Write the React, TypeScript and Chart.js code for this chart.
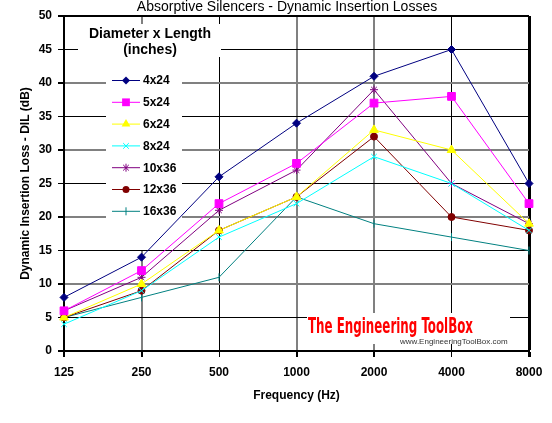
import React, { useEffect, useRef } from 'react';
import { Chart, registerables } from 'chart.js';

Chart.register(...registerables);

const categories = ['125', '250', '500', '1000', '2000', '4000', '8000'];
const seriesNames = ['4x24', '5x24', '6x24', '8x24', '10x36', '12x36', '16x36'];
const s4x24 = [8, 14, 26, 34, 41, 45, 25];
const s5x24 = [6, 12, 22, 28, 37, 38, 22];
const s6x24 = [5, 10, 18, 23, 33, 30, 19];
const s8x24 = [4, 9, 17, 22, 29, 25, 18];
const s10x36 = [6, 11, 21, 27, 39, 25, 19];
const s12x36 = [5, 9, 18, 23, 32, 20, 18];
const s16x36 = [5, 8, 11, 23, 19, 17, 15];
const seriesValues = [s4x24, s5x24, s6x24, s8x24, s10x36, s12x36, s16x36];
const seriesColors = ['#000080', '#FF00FF', '#FFFF00', '#00FFFF', '#800080', '#800000', '#008080'];
const seriesStyles: any[] = ['rectRot', 'rect', 'triangle', 'crossRot', 'star', 'circle', 'line'];
const seriesRadius = [4, 5.5, 5, 4, 4, 3.5, 4];

const FONT = '"Liberation Sans", Arial, sans-serif';

function drawMarker(ctx: CanvasRenderingContext2D, style: string, x: number, y: number, r: number, color: string) {
  ctx.save();
  ctx.fillStyle = color;
  ctx.strokeStyle = color;
  ctx.lineWidth = 1;
  ctx.beginPath();
  if (style === 'rectRot') {
    ctx.moveTo(x, y - r); ctx.lineTo(x + r, y); ctx.lineTo(x, y + r); ctx.lineTo(x - r, y); ctx.closePath();
    ctx.fill();
  } else if (style === 'rect') {
    const s = r * Math.SQRT1_2;
    ctx.rect(x - s, y - s, 2 * s, 2 * s); ctx.fill();
  } else if (style === 'triangle') {
    ctx.moveTo(x, y - r); ctx.lineTo(x + r * 0.87, y + r * 0.5); ctx.lineTo(x - r * 0.87, y + r * 0.5); ctx.closePath(); ctx.fill();
  } else if (style === 'crossRot') {
    const s = r * Math.SQRT1_2;
    ctx.moveTo(x - s, y - s); ctx.lineTo(x + s, y + s); ctx.moveTo(x + s, y - s); ctx.lineTo(x - s, y + s); ctx.stroke();
  } else if (style === 'star') {
    const s = r * Math.SQRT1_2;
    ctx.moveTo(x - s, y - s); ctx.lineTo(x + s, y + s); ctx.moveTo(x + s, y - s); ctx.lineTo(x - s, y + s);
    ctx.moveTo(x, y - r); ctx.lineTo(x, y + r); ctx.stroke();
  } else if (style === 'circle') {
    ctx.arc(x, y, r, 0, Math.PI * 2); ctx.fill();
  } else if (style === 'line') {
    ctx.moveTo(x, y - r); ctx.lineTo(x, y + r); ctx.stroke();
  }
  ctx.restore();
}

const decorPlugin = {
  id: 'decor',
  beforeDatasetsDraw(chart: any) {
    const ctx: CanvasRenderingContext2D = chart.ctx;
    ctx.save();
    ctx.fillStyle = '#ffffff';
    ctx.fillRect(78, 24, 143, 33);
    ctx.fillRect(106, 57, 76, 193);
    ctx.fillRect(307, 313, 203, 31);
    ctx.restore();
  },
  afterDatasetsDraw(chart: any) {
    const ctx: CanvasRenderingContext2D = chart.ctx;
    ctx.save();
    ctx.fillStyle = '#000';
    ctx.textAlign = 'center';
    ctx.textBaseline = 'middle';
    ctx.font = `14px ${FONT}`;
    ctx.fillText('Absorptive Silencers - Dynamic Insertion Losses', 287, 7);
    ctx.font = `bold 14px ${FONT}`;
    ctx.fillText('Diameter x Length', 150, 34);
    ctx.fillText('(inches)', 150, 50);
    ctx.textAlign = 'left';
    ctx.font = `bold 12px ${FONT}`;
    for (let i = 0; i < seriesNames.length; i++) {
      const y = 80 + i * 21.8;
      ctx.strokeStyle = seriesColors[i];
      ctx.lineWidth = 1;
      ctx.beginPath();
      ctx.moveTo(112, y + 0.5);
      ctx.lineTo(140, y + 0.5);
      ctx.stroke();
      drawMarker(ctx, seriesStyles[i], 126, y + 0.5, seriesRadius[i], seriesColors[i]);
      ctx.fillStyle = '#000';
      ctx.fillText(seriesNames[i], 143, y + 1);
    }
    ctx.fillStyle = '#ff0000';
    ctx.textAlign = 'left';
    ctx.textBaseline = 'alphabetic';
    ctx.font = `bold 21px "Liberation Sans Narrow", "DejaVu Sans Condensed", ${FONT}`;
    const wm = 'The Engineering ToolBox';
    const w = ctx.measureText(wm).width;
    ctx.save();
    ctx.translate(308, 333);
    ctx.scale(165 / w, 1);
    ctx.fillText(wm, 0, 0);
    ctx.restore();
    ctx.fillStyle = '#333';
    ctx.font = `8px ${FONT}`;
    ctx.fillText('www.EngineeringToolBox.com', 400, 344);
    ctx.restore();
  },
};

const xGridColors = ['#000000', '#808080', '#000000', '#808080', '#808080', '#000000', '#000000'];
const xGridWidths = [2, 2, 1, 2, 2, 1, 3];

export default function App() {
  const canvasRef = useRef<HTMLCanvasElement | null>(null);

  useEffect(() => {
    const canvas = canvasRef.current;
    if (!canvas) return;
    const chart = new Chart(canvas, {
      type: 'line',
      data: {
        labels: categories,
        datasets: seriesNames.map((name, i) => ({
          label: name,
          data: seriesValues[i],
          borderColor: seriesColors[i],
          backgroundColor: seriesColors[i],
          borderWidth: 1,
          pointStyle: seriesStyles[i],
          pointRadius: seriesRadius[i],
          pointRotation: seriesStyles[i] === 'line' ? 90 : 0,
          pointBorderWidth: 1,
          tension: 0,
          fill: false,
        })),
      },
      options: {
        responsive: false,
        devicePixelRatio: 1,
        animation: false,
        layout: { padding: { left: 0, right: 23, top: 16, bottom: 0 } },
        plugins: {
          legend: { display: false },
          title: { display: false },
          tooltip: { enabled: false },
        },
        scales: {
          x: {
            type: 'category',
            offset: false,
            grid: {
              color: (c: any) => xGridColors[c.index] ?? '#000',
              lineWidth: (c: any) => xGridWidths[c.index] ?? 1,
              tickColor: '#000',
              tickLength: 6,
              drawTicks: true,
            },
            border: { display: true, color: '#000', width: 2 },
            ticks: {
              color: '#000',
              font: { family: FONT, size: 12, weight: 'bold' },
              padding: 8,
              maxRotation: 0,
              autoSkip: false,
            },
            title: {
              display: true,
              text: 'Frequency (Hz)',
              color: '#000',
              font: { family: FONT, size: 12, weight: 'bold' },
              padding: { top: 0, bottom: 20 },
            },
            afterFit: (scale: any) => {
              scale.height = 72;
            },
          },
          y: {
            min: 0,
            max: 50,
            ticks: {
              stepSize: 5,
              color: '#000',
              font: { family: FONT, size: 12, weight: 'bold' },
              padding: 6,
            },
            grid: {
              color: (c: any) => {
                const v = c.tick ? c.tick.value : 0;
                if (v === 0 || v === 50) return '#000';
                return v % 10 === 0 ? '#808080' : '#000';
              },
              lineWidth: (c: any) => {
                const v = c.tick ? c.tick.value : 0;
                if (v === 0 || v === 50) return 2;
                return v % 10 === 0 ? 2 : 1;
              },
              tickColor: '#000',
              tickLength: 6,
            },
            border: { display: true, color: '#000', width: 2 },
            title: {
              display: true,
              text: 'Dynamic Insertion Loss - DIL (dB)',
              color: '#000',
              font: { family: FONT, size: 12, weight: 'bold' },
              padding: { top: 18, bottom: 0 },
            },
            afterFit: (scale: any) => {
              scale.width = 64;
            },
          },
        },
      } as any,
      plugins: [decorPlugin],
    });
    return () => chart.destroy();
  }, []);

  return (
    <div style={{ position: 'fixed', left: 0, top: 0, width: 552, height: 423, background: '#fff' }}>
      <canvas ref={canvasRef} width={552} height={423} style={{ display: 'block' }} />
    </div>
  );
}
